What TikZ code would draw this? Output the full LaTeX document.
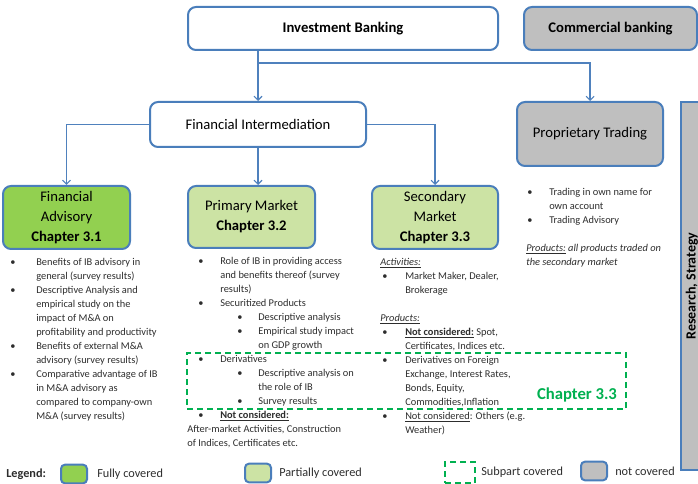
\documentclass[tikz,border=0pt]{standalone}
\usepackage{fontspec}
\setmainfont{Carlito}
\usetikzlibrary{positioning}
\usetikzlibrary{arrows.meta}
\definecolor{boxblue}{RGB}{74,126,187}
\definecolor{lineblue}{RGB}{79,129,189}
\definecolor{fullgreen}{RGB}{146,208,80}
\definecolor{partgreen}{RGB}{204,227,164}
\definecolor{subgreen}{RGB}{0,176,80}
\definecolor{notgray}{RGB}{191,191,191}
\definecolor{listgray}{RGB}{45,45,45}
\newcommand{\itm}[2]{\hspace*{#1}\makebox[#2][l]{\textbullet}}

\begin{document}
\begin{tikzpicture}[x=0.75pt,y=-0.75pt,>={Straight Barb[length=3pt,width=6pt]}]
		\tikzset{
			box/.style={draw=boxblue,line width=1.5pt,rounded corners=6pt,align=center,inner sep=0pt,font=\fontsize{11}{15}\selectfont},
			boldbox/.style={box,font=\fontsize{11}{15}\selectfont\bfseries},
		}
		\tikzset{
			listnode/.style={anchor=north west,align=left,inner sep=0pt,text=listgray,font=\fontsize{7.8}{10.5}\selectfont},
			legbox/.style={draw=boxblue,line width=1.5pt,rounded corners=3pt,minimum width=19.5pt,minimum height=14pt,inner sep=0pt},
			legtext/.style={anchor=west,inner sep=0pt,text=listgray,font=\fontsize{9.2}{11}\selectfont},
			subpart/.style={draw=subgreen,line width=1.5pt,dash pattern=on 4.5pt off 3pt,inner sep=0pt},
		}
		\tikzset{
			edge/.style={color=lineblue,line width=0.8pt},
		}
		\newcommand{\ind}{\hspace*{19.5pt}}
		\newcommand{\pind}{\hspace*{24.75pt}}
		\newcommand{\sind}{\hspace*{53.25pt}}
		\useasboundingbox (0,0) rectangle (698,484);
		
		\node[boldbox,fill=white,minimum width=232.5pt,minimum height=32.25pt] (ib) at (343,28.5) {Investment Banking};
		\node[boldbox,fill=notgray,minimum width=129.75pt,minimum height=32.25pt] (cb) at (610.5,28.5) {Commercial banking};
		
		\node[box,fill=white,minimum width=162pt,minimum height=33.75pt] (fi) at (258,124.5) {Financial Intermediation};
		\node[box,fill=notgray,minimum width=109.5pt,minimum height=48pt] (pt) at (590,134) {Proprietary Trading};
		\node[draw=boxblue,line width=1.5pt,fill=notgray,rotate=90,minimum width=276pt,minimum height=16.5pt,inner sep=0pt,font=\fontsize{10.5}{12}\selectfont\bfseries] (rs) at (692,286) {Research, Strategy};
		
		\node[box,fill=fullgreen,minimum width=95.25pt,minimum height=47.25pt] (fa) at (66.5,217.5) {Financial\\Advisory\\\textbf{Chapter 3.1}};
		\node[box,fill=partgreen,minimum width=95.25pt,minimum height=46.5pt] (pm) at (251.5,217) {Primary Market\\\textbf{Chapter 3.2}};
		\node[box,fill=partgreen,minimum width=94.5pt,minimum height=47.25pt] (sm) at (435,217.5) {Secondary\\Market\\\textbf{Chapter 3.3}};
		
		\coordinate (split) at (258,63);
		\draw[edge] (ib.south -| fi.north) -- (split);
		\draw[->,edge] (split) -- (fi.north);
		\draw[->,edge] (split) -| (pt.north);
		\draw[->,edge] (fi.west) -| (fa.north);
		\draw[->,edge] (fi.south) -- (fi.south |- pm.north);
		\draw[->,edge] (fi.east) -| (sm.north);
		
		% lists below the boxes
		\node[listnode] (falist) at (10,257.7) {%
			\itm{0pt}{19.5pt}Benefits of IB advisory in\\
			\ind general (survey results)\\
			\itm{0pt}{19.5pt}Descriptive Analysis and\\
			\ind empirical study on the\\
			\ind impact of M\&A on\\
			\ind profitability and productivity\\
			\itm{0pt}{19.5pt}Benefits of external M\&A\\
			\ind advisory (survey results)\\
			\itm{0pt}{19.5pt}Comparative advantage of IB\\
			\ind in M\&A advisory as\\
			\ind compared to company-own\\
			\ind M\&A (survey results)};
		\node[listnode] (pmlist) at (187,256.7) {%
			\itm{8.25pt}{16.5pt}Role of IB in providing access\\
			\pind and benefits thereof (survey\\
			\pind results)\\
			\itm{8.25pt}{16.5pt}Securitized Products\\
			\itm{37.5pt}{15.75pt}Descriptive analysis\\
			\itm{37.5pt}{15.75pt}Empirical study impact\\
			\sind on GDP growth\\
			\itm{8.25pt}{16.5pt}Derivatives\\
			\itm{37.5pt}{15.75pt}Descriptive analysis on\\
			\sind the role of IB\\
			\itm{37.5pt}{15.75pt}Survey results\\
			\itm{8.25pt}{16.5pt}\textbf{\underline{Not considered:}}\\
			After-market Activities, Construction\\
			of Indices, Certificates etc.};
		\node[listnode] (smlist) at (380,257.7) {%
			\textit{\underline{Activities:}}\\
			\itm{1.5pt}{17.25pt}Market Maker, Dealer,\\
			\hspace*{18.75pt}Brokerage\\
			\mbox{}\\
			\textit{\underline{Products:}}\\
			\itm{1.5pt}{17.25pt}\textbf{\underline{Not considered:}} Spot,\\
			\hspace*{18.75pt}Certificates, Indices etc.\\
			\itm{1.5pt}{17.25pt}Derivatives on Foreign\\
			\hspace*{18.75pt}Exchange, Interest Rates,\\
			\hspace*{18.75pt}Bonds, Equity,\\
			\hspace*{18.75pt}Commodities,Inflation\\
			\itm{1.5pt}{17.25pt}\underline{Not considered}: Others (e.g.\\
			\hspace*{18.75pt}Weather)};
		\node[listnode] (ptlist) at (526,187.7) {%
			\itm{0.75pt}{16.5pt}Trading in own name for\\
			\hspace*{17.25pt}own account\\
			\itm{0.75pt}{16.5pt}Trading Advisory\\
			\mbox{}\\
			\textit{\underline{Products:} all products traded on}\\
			\textit{the secondary market}};
		
		\node[subpart,minimum width=329.25pt,minimum height=42pt] (sub) at (406.5,381) {};
		\node[text=subgreen,font=\fontsize{12.5}{14}\selectfont\bfseries] (subch) at (577,395) {Chapter 3.3};
		
		% legend
		\node[legtext,font=\fontsize{9.2}{11}\selectfont\bfseries] (leg) at (6,474) {Legend:};
		\node[legbox,fill=fullgreen] (legfull) at (74,474) {};
		\node[legtext] (legfulltxt) at (97,474) {Fully covered};
		\node[legbox,fill=partgreen] (legpart) at (258,473) {};
		\node[legtext] (legparttxt) at (279,473) {Partially covered};
		\node[subpart,minimum width=22.5pt,minimum height=15.75pt] (legsub) at (460,472.5) {};
		\node[legtext] (legsubtxt) at (481,472) {Subpart covered};
		\node[legbox,fill=notgray] (legnot) at (594,471) {};
		\node[legtext] (legnottxt) at (615,471) {not covered};
	\end{tikzpicture}
\end{document}
